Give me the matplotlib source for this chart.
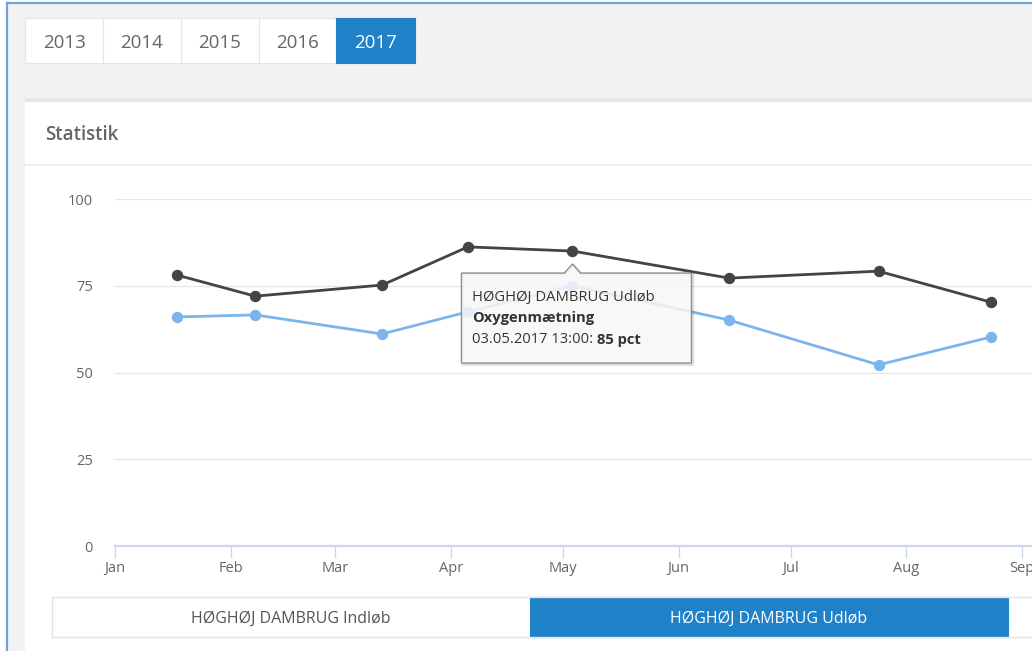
import numpy as np
import matplotlib
matplotlib.use("Agg")
import matplotlib.pyplot as plt
import matplotlib.dates as mdates
from matplotlib.patches import Rectangle, Polygon

plt.rcParams["font.family"] = ["Open Sans", "DejaVu Sans"]

W, H = 1032, 651
BLUE_UI, GREY_TXT, PAGE = "#1f82c8", "#666666", "#f2f2f2"
C_IND, C_UD = "#7cb5ec", "#434348"

# data
years = ["2013", "2014", "2015", "2016", "2017"]
active_year = "2017"
series_names = ["HØGHØJ DAMBRUG Indløb", "HØGHØJ DAMBRUG Udløb"]
active_series = "HØGHØJ DAMBRUG Udløb"
dates = np.array(["2017-01-17T13:00", "2017-02-07T13:00", "2017-03-13T13:00",
                  "2017-04-05T13:00", "2017-05-03T13:00", "2017-06-14T13:00",
                  "2017-07-24T13:00", "2017-08-23T13:00"], dtype="datetime64[m]")
indlob = [66.0, 66.6, 61.1, 67.5, 75.0, 65.1, 52.2, 60.2]
udlob = [78.1, 72.0, 75.2, 86.2, 85.0, 77.2, 79.2, 70.3]
y_ticks = [0, 25, 50, 75, 100]
month_starts = np.arange("2017-01", "2017-10", dtype="datetime64[M]").astype("datetime64[D]")
month_labels = ["Jan", "Feb", "Mar", "Apr", "May", "Jun", "Jul", "Aug", "Sep"]
metric, unit = "Oxygenmætning", "pct"
tip_idx = 4

fig = plt.figure(figsize=(W / 100, H / 100), dpi=100, facecolor="white")

# page chrome in pixel coords (y down)
bg = fig.add_axes([0, 0, 1, 1], zorder=0)
bg.set_xlim(0, W); bg.set_ylim(H, 0); bg.axis("off")
bg.add_patch(Rectangle((7, 3), W, H, facecolor=PAGE, edgecolor="none"))
bg.plot([7, W], [3, 3], color="#6fa3da", lw=1.6)
bg.plot([7, 7], [3, H], color="#6fa3da", lw=1.6)

# year tabs
tab_x = [25, 103, 181, 259, 336, 415]
for i, yr in enumerate(years):
    on = yr == active_year
    bg.add_patch(Rectangle((tab_x[i], 18), tab_x[i + 1] - tab_x[i], 45,
                           facecolor=BLUE_UI if on else "white",
                           edgecolor=BLUE_UI if on else "#e6e6e6", lw=0.8))
    bg.text((tab_x[i] + tab_x[i + 1]) / 2, 48.5, yr, fontsize=13.5,
            color="white" if on else GREY_TXT, ha="center", va="baseline")

# panel
bg.add_patch(Rectangle((25, 98), W, 5, facecolor="#e4e8eb", edgecolor="none"))
bg.add_patch(Rectangle((25, 102), W, H, facecolor="white", edgecolor="none"))
bg.plot([25, W], [164.5, 164.5], color="#edf0f1", lw=1.5)
bg.text(45, 140, "Statistik", fontsize=13.5, weight="semibold", color=GREY_TXT,
        ha="left", va="baseline")

# series buttons
btn_x = [52, 530, 1008]
bg.plot([52, W], [597, 597], color="#e3e3e3", lw=1)
bg.plot([52, W], [636.5, 636.5], color="#e3e3e3", lw=1)
bg.plot([52, 52], [597, 636.5], color="#e3e3e3", lw=1)
for i, name in enumerate(series_names):
    on = name == active_series
    bg.add_patch(Rectangle((btn_x[i], 597), btn_x[i + 1] - btn_x[i], 39.5,
                           facecolor=BLUE_UI if on else "white",
                           edgecolor=BLUE_UI if on else "#e3e3e3", lw=0.8))
    bg.text((btn_x[i] + btn_x[i + 1]) / 2, 623, name, fontsize=11.5,
            color="white" if on else "#555555", ha="center", va="baseline")

# chart
ax = fig.add_axes([115 / W, 105 / H, (W - 115) / W, 347 / H], zorder=1)
ax.patch.set_alpha(0)
x0 = mdates.date2num(np.datetime64("2017-01-01"))
ax.set_xlim(x0, x0 + (W - 115) / 3.733)
ax.set_ylim(0, 100)
ax.set_yticks(y_ticks)
ax.set_xticks(mdates.date2num(month_starts))
ax.set_xticklabels(month_labels)
for s in ("top", "right", "left"):
    ax.spines[s].set_visible(False)
ax.spines["bottom"].set_color("#ccd6eb")
ax.spines["bottom"].set_linewidth(1.6)
ax.grid(axis="y", color="#e6e6e6", lw=0.9)
ax.set_axisbelow(True)
ax.tick_params(axis="y", length=0, pad=16, labelsize=10.5, labelcolor=GREY_TXT)
ax.tick_params(axis="x", length=8.5, width=0.9, color="#ccd6eb", direction="out",
               pad=2, labelsize=10.5, labelcolor=GREY_TXT)

xd = mdates.date2num(dates)
ax.plot(xd, indlob, color=C_IND, lw=2, marker="o", ms=7.2, clip_on=False, zorder=3)
ax.plot(xd, udlob, color=C_UD, lw=2, marker="o", ms=7.2, clip_on=False, zorder=4)

# tooltip on top, anchored to the hovered point
top = fig.add_axes([0, 0, 1, 1], zorder=2)
top.set_xlim(0, W); top.set_ylim(H, 0); top.axis("off")
px, py = ax.transData.transform((xd[tip_idx], udlob[tip_idx]))
X, Y = px, H - py
l, r, t, b = X - 111, X + 119, Y + 22, Y + 112
shape = [(l, t), (X - 8, t), (X, Y + 13), (X + 8, t), (r, t), (r, b), (l, b)]
top.add_patch(Polygon([(x + 1.5, y + 1.5) for x, y in shape], closed=True,
                      facecolor="none", edgecolor="black", alpha=0.12, lw=2))
top.add_patch(Polygon(shape, closed=True, facecolor=(0.97, 0.97, 0.97, 0.85),
                      edgecolor="#8f8f8f", lw=1))
d = dates[tip_idx].astype(object)
fs = 10.6
top.text(l + 11, Y + 50, series_names[1], fontsize=fs, color="#333333", va="baseline")
top.text(l + 11, Y + 71, metric, fontsize=fs, weight="bold", color="#333333", va="baseline")
t1 = top.text(l + 11, Y + 92, d.strftime("%d.%m.%Y %H:%M: "), fontsize=fs,
              color="#333333", va="baseline")
top.annotate(f"{udlob[tip_idx]:.0f} {unit}", xy=(1, 0), xycoords=t1, fontsize=fs,
             weight="bold", color="#333333", ha="left", va="bottom")

fig.savefig("out.png", dpi=100, facecolor="white")
